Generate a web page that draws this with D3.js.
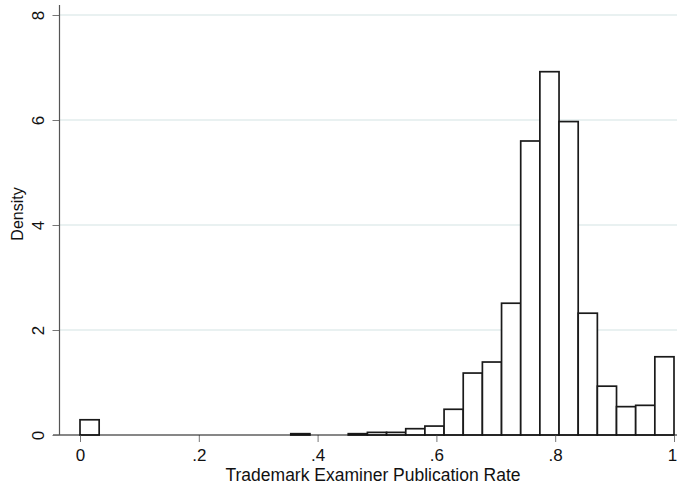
<!DOCTYPE html>
<html><head><meta charset="utf-8">
<script src="https://cdn.jsdelivr.net/npm/d3@7"></script>
<style>body{margin:0;background:#fff}svg{display:block}text{font-family:"Liberation Sans",Arial,sans-serif;fill:#111}</style>
</head><body>
<svg id="c" width="677" height="486"></svg>
<script>
const binCount = 31;
const binStart = 0;
const binEnd = 1;
const densities = [0.29,0,0,0,0,0,0,0,0,0,0,0.025,0,0,0.025,0.05,0.05,0.12,0.17,0.49,1.18,1.39,2.51,5.6,6.92,5.97,2.32,0.93,0.54,0.565,1.49];
const xTicks = [0,0.2,0.4,0.6,0.8,1];
const xTickLabels = ["0",".2",".4",".6",".8","1"];
const yTicks = [0,2,4,6,8];
const yGrid = [2,4,6,8];
const xTitle = "Trademark Examiner Publication Rate";
const yTitle = "Density";

const svg = d3.select("#c");
const x = d3.scaleLinear().domain([0,1]).range([80,674]);
const y = d3.scaleLinear().domain([0,8]).range([435,15]);
const w = (binEnd-binStart)/binCount;
const bins = densities.map((d,i)=>({x0:binStart+i*w, x1:binStart+(i+1)*w, v:d}));

// grid
svg.append("g").selectAll("line").data(yGrid).join("line")
  .attr("x1",60).attr("x2",677).attr("y1",d=>y(d)).attr("y2",d=>y(d))
  .attr("stroke","#e2eded").attr("stroke-width",1.3);

// bars
svg.append("g").selectAll("rect").data(bins.filter(b=>b.v>0)).join("rect")
  .attr("x",d=>x(d.x0)).attr("width",d=>x(d.x1)-x(d.x0))
  .attr("y",d=>y(d.v)).attr("height",d=>y(0)-y(d.v))
  .attr("fill","#fff").attr("stroke","#1a1a1a").attr("stroke-width",1.7);

// x axis
const xa = svg.append("g").attr("transform","translate(0,435)")
  .call(d3.axisBottom(x).tickValues(xTicks).tickFormat((d,i)=>xTickLabels[i]).tickSize(7).tickPadding(7));
xa.select(".domain").remove();
xa.append("line").attr("x1",53).attr("x2",677).attr("y1",0).attr("y2",0).attr("stroke","#111").attr("stroke-width",1.2);
xa.selectAll(".tick line").attr("stroke","#777");
xa.selectAll(".tick text").attr("font-size",17).style("font-family","Liberation Sans, Arial, sans-serif").attr("fill","#111")
  .attr("dx",(d,i)=> i===xTicks.length-1 ? "-2" : null);

// y axis
const ya = svg.append("g").attr("transform","translate(59.5,0)")
  .call(d3.axisLeft(y).tickValues(yTicks).tickFormat(d3.format("d")).tickSize(7).tickPadding(0));
ya.select(".domain").remove();
ya.append("line").attr("x1",0).attr("x2",0).attr("y1",5).attr("y2",435).attr("stroke","#555").attr("stroke-width",1.2);
ya.selectAll(".tick line").attr("stroke","#777");
ya.selectAll(".tick text").attr("font-size",17).style("font-family","Liberation Sans, Arial, sans-serif").attr("fill","#111")
  .attr("x",null).attr("dy",null).attr("text-anchor","middle")
  .attr("transform","translate(-15.5,0) rotate(-90)");

// titles
svg.append("text").attr("x",373).attr("y",481).attr("text-anchor","middle").attr("font-size",17.5).text(xTitle);
svg.append("text").attr("transform","translate(23,214) rotate(-90)").attr("text-anchor","middle").attr("font-size",16).text(yTitle);
</script>
</body></html>
